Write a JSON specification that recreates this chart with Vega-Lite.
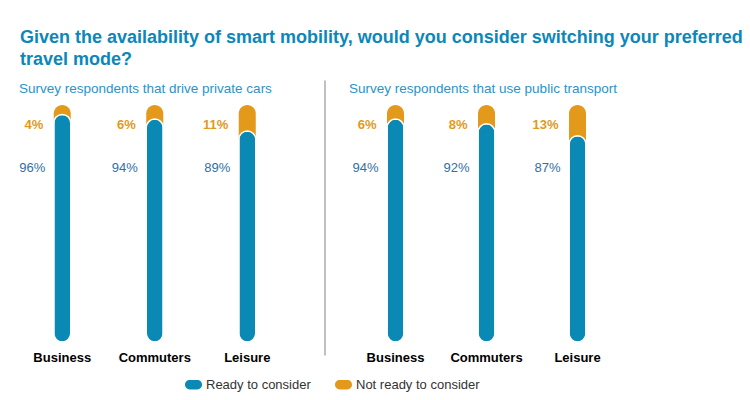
{
  "$schema": "https://vega.github.io/schema/vega-lite/v6.json",
  "autosize": {"type": "pad"},
  "padding": {"left": 16, "top": 29, "right": 0, "bottom": 0},
  "background": "white",
  "title": {
    "text": ["Given the availability of smart mobility, would you consider switching your preferred", "travel mode?"],
    "anchor": "start",
    "dx": 4,
    "baseline": "top",
    "offset": 11,
    "fontSize": 18,
    "fontWeight": "bold",
    "lineHeight": 22,
    "color": "#0c87b9",
    "font": "Liberation Sans"
  },
  "data": {
    "values": [
      {"group": "Private cars", "category": "Business", "status": "Ready to consider", "value": 0.96},
      {"group": "Private cars", "category": "Business", "status": "Not ready to consider", "value": 0.04},
      {"group": "Private cars", "category": "Commuters", "status": "Ready to consider", "value": 0.94},
      {"group": "Private cars", "category": "Commuters", "status": "Not ready to consider", "value": 0.06},
      {"group": "Private cars", "category": "Leisure", "status": "Ready to consider", "value": 0.89},
      {"group": "Private cars", "category": "Leisure", "status": "Not ready to consider", "value": 0.11},
      {"group": "Public transport", "category": "Business", "status": "Ready to consider", "value": 0.94},
      {"group": "Public transport", "category": "Business", "status": "Not ready to consider", "value": 0.06},
      {"group": "Public transport", "category": "Commuters", "status": "Ready to consider", "value": 0.92},
      {"group": "Public transport", "category": "Commuters", "status": "Not ready to consider", "value": 0.08},
      {"group": "Public transport", "category": "Leisure", "status": "Ready to consider", "value": 0.87},
      {"group": "Public transport", "category": "Leisure", "status": "Not ready to consider", "value": 0.13}
    ]
  },
  "spacing": 30,
  "hconcat": [
    {
      "width": 277.5,
      "height": 275,
      "title": {"text": "Survey respondents that drive private cars", "anchor": "start", "frame": "group", "dx": 3, "offset": -15, "baseline": "top", "fontSize": 13.5, "fontWeight": "normal", "color": "#2a93c9"},
      "transform": [{"filter": "datum.group === 'Private cars'"}],
      "encoding": {
        "x": {"field": "category", "type": "nominal", "sort": ["Business", "Commuters", "Leisure"], "scale": {"paddingInner": 0, "paddingOuter": 0},
          "axis": {"title": null, "domain": false, "ticks": false, "tickSize": 0, "labelPadding": -4, "labelFontSize": 13, "labelFontWeight": "bold", "labelColor": "#000000", "labelAngle": 0}}
      },
      "layer": [
        {
          "mark": {"type": "bar", "width": 17, "cornerRadius": 8.5},
          "encoding": {
            "y": {"aggregate": "sum", "field": "value", "type": "quantitative", "scale": {"domain": [-0.055, 1.105], "nice": false, "zero": false}, "axis": null},
            "color": {"datum": "Not ready to consider", "type": "nominal", "scale": {"domain": ["Ready to consider", "Not ready to consider"], "range": ["#0a89b5", "#e3991a"]}}
          }
        },
        {
          "transform": [{"filter": "datum.status === 'Ready to consider'"}],
          "mark": {"type": "bar", "width": 17, "cornerRadius": 8.5, "stroke": "white", "strokeWidth": 1.5},
          "encoding": {
            "y": {"field": "value", "type": "quantitative"},
            "color": {"field": "status", "type": "nominal"}
          }
        },
        {
          "transform": [{"filter": "datum.status === 'Not ready to consider'"}],
          "mark": {"type": "text", "align": "right", "baseline": "middle", "dx": -19, "fontSize": 13, "fontWeight": "bold", "color": "#e3991a"},
          "encoding": {
            "y": {"datum": 0.915, "type": "quantitative"},
            "text": {"field": "value", "type": "quantitative", "format": ".0%"}
          }
        },
        {
          "transform": [{"filter": "datum.status === 'Ready to consider'"}],
          "mark": {"type": "text", "align": "right", "baseline": "middle", "dx": -17, "fontSize": 13, "color": "#2f70a6"},
          "encoding": {
            "y": {"datum": 0.734, "type": "quantitative"},
            "text": {"field": "value", "type": "quantitative", "format": ".0%"}
          }
        }
      ]
    },
    {
      "width": 273,
      "height": 275,
      "title": {"text": "Survey respondents that use public transport", "anchor": "start", "frame": "group", "dx": -1, "offset": -15, "baseline": "top", "fontSize": 13.5, "fontWeight": "normal", "color": "#2a93c9"},
      "transform": [{"filter": "datum.group === 'Public transport'"}],
      "encoding": {
        "x": {"field": "category", "type": "nominal", "sort": ["Business", "Commuters", "Leisure"], "scale": {"paddingInner": 0, "paddingOuter": 0},
          "axis": {"title": null, "domain": false, "ticks": false, "tickSize": 0, "labelPadding": -4, "labelFontSize": 13, "labelFontWeight": "bold", "labelColor": "#000000", "labelAngle": 0}}
      },
      "layer": [
        {
          "mark": {"type": "bar", "width": 17, "cornerRadius": 8.5},
          "encoding": {
            "y": {"aggregate": "sum", "field": "value", "type": "quantitative", "scale": {"domain": [-0.055, 1.105], "nice": false, "zero": false},
              "axis": {"title": null, "orient": "left", "offset": 25.5, "domain": true, "domainColor": "#c0c0c0", "domainWidth": 2, "ticks": false, "labels": false, "grid": false}},
            "color": {"datum": "Not ready to consider", "type": "nominal"}
          }
        },
        {
          "transform": [{"filter": "datum.status === 'Ready to consider'"}],
          "mark": {"type": "bar", "width": 17, "cornerRadius": 8.5, "stroke": "white", "strokeWidth": 1.5},
          "encoding": {
            "y": {"field": "value", "type": "quantitative"},
            "color": {"field": "status", "type": "nominal"}
          }
        },
        {
          "transform": [{"filter": "datum.status === 'Not ready to consider'"}],
          "mark": {"type": "text", "align": "right", "baseline": "middle", "dx": -19, "fontSize": 13, "fontWeight": "bold", "color": "#e3991a"},
          "encoding": {
            "y": {"datum": 0.915, "type": "quantitative"},
            "text": {"field": "value", "type": "quantitative", "format": ".0%"}
          }
        },
        {
          "transform": [{"filter": "datum.status === 'Ready to consider'"}],
          "mark": {"type": "text", "align": "right", "baseline": "middle", "dx": -17, "fontSize": 13, "color": "#2f70a6"},
          "encoding": {
            "y": {"datum": 0.734, "type": "quantitative"},
            "text": {"field": "value", "type": "quantitative", "format": ".0%"}
          }
        }
      ]
    }
  ],
  "resolve": {"scale": {"color": "shared"}},
  "config": {
    "font": "Liberation Sans",
    "view": {"stroke": null},
    "legend": {
      "orient": "none",
      "legendX": 169,
      "legendY": 296,
      "direction": "horizontal",
      "title": null,
      "labelFontSize": 13,
      "labelColor": "#333333",
      "labelOffset": 4,
      "columnPadding": 23,
      "symbolSize": 289,
      "symbolType": "M-0.45,-0.55 L0.45,-0.55 A0.55,0.55 0 0 1 0.45,0.55 L-0.45,0.55 A0.55,0.55 0 0 1 -0.45,-0.55 Z",
      "symbolStrokeWidth": 0,
      "symbolOpacity": 1
    }
  }
}
